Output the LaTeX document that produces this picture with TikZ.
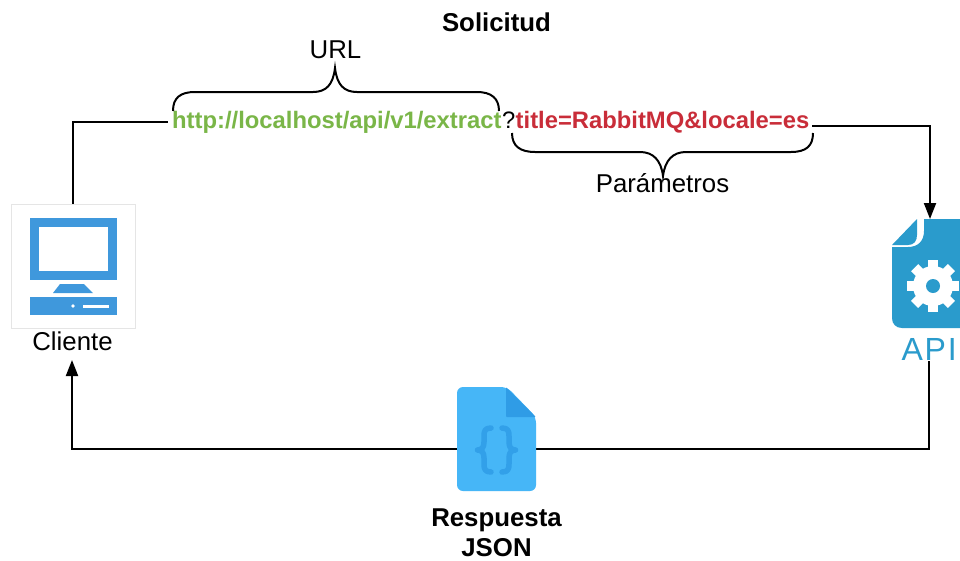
\documentclass[tikz,border=0pt]{standalone}
\usepackage{fontspec}
\setmainfont{Liberation Sans}
\usetikzlibrary{arrows.meta}
\definecolor{urlgreen}{HTML}{7AB648}
\definecolor{paramred}{HTML}{C92D39}
\definecolor{pcblue}{HTML}{3F98DC}
\definecolor{apiblue}{HTML}{2A9BCC}
\definecolor{jsonblue}{HTML}{46B6F7}
\definecolor{jsondark}{HTML}{2F9CE6}
\tikzset{
  lbl/.style={inner sep=0pt,font=\fontsize{25.8}{30}\selectfont},
  bold/.style={inner sep=0pt,font=\fontsize{25.8}{30}\selectfont\bfseries},
  conn/.style={draw=black,line width=2pt},
  arrowed/.style={conn,-{Triangle[length=16pt,width=12pt]}},
  bracecurve/.style={draw=black,line width=2pt}
}
\begin{document}
\begin{tikzpicture}[x=1pt,y=-1pt]
\useasboundingbox (0,0) rectangle (960,560);
\clip (0,0) rectangle (960,560);
\fill[white] (0,0) rectangle (960,560);
% anchors
\coordinate (apiIn) at (930,219);
\coordinate (apiOut) at (929,361);
\coordinate (paramsOut) at (812,126);
\coordinate (urlIn) at (168,122);
\coordinate (clientOut) at (73,204);
\coordinate (clientIn) at (72,360);
\coordinate (jsonMid) at (496,449);
% connectors
\draw[conn] (clientOut) |- (urlIn);
\draw[arrowed] (paramsOut) -| (apiIn);
\draw[arrowed] (apiOut) |- (jsonMid) -| (clientIn);
% client icon
\node[draw=black!10,line width=0.8pt,minimum width=124pt,minimum height=124pt,inner sep=0pt] (cliente) at (73,266) {};
\fill[pcblue] (30,218) rectangle (116.5,280);
\fill[white] (39,227) rectangle (108,271);
\fill[pcblue] (60,284) -- (84,284) -- (93,293) -- (53,293) -- cycle;
\fill[pcblue] (30,297) rectangle (116.5,315);
\fill[white] (73,306) circle (1.8);
\fill[white] (83,304.5) rectangle (109,307.5);
\node[lbl] (clabel) at (72.5,341) {Cliente};
% api icon
\fill[apiblue] (924,219) -- (970,219) -- (970,328) -- (902,328)
  .. controls (896,328) and (892,324) .. (892,318) -- (892,247) -- (908,247)
  .. controls (918,247) and (924,241) .. (924,231) -- cycle;
\fill[apiblue] (917,219) -- (892,245) -- (908,245)
  .. controls (914,245) and (917,241) .. (917,235) -- cycle;
\foreach \a in {0,45,...,315}{
  \fill[white,rotate around={\a:(933,286)}] (928,260) rectangle (938,275);
}
\fill[white] (933,286) circle (20);
\fill[apiblue] (933,286) circle (7);
\node[anchor=base west,inner sep=0pt,text=apiblue,font=\fontsize{32}{36}\selectfont] (api) at (901.5,360) {A\kern1.5pt P\kern2pt I};
% json icon
\fill[jsonblue,rounded corners=6pt] (457,387) -- (507,387) -- (536,417) -- (536,491) -- (457,491) -- cycle;
\fill[jsondark,rounded corners=1pt] (506,387) -- (536,417) -- (506,417) -- cycle;
\begin{scope}[draw=jsondark!85!jsonblue,line width=5.5pt,line cap=round,line join=round]
\draw (491,428) .. controls (485,428) and (484,431) .. (484,436) -- (484,442)
  .. controls (484,447) and (482,450) .. (477.5,450)
  .. controls (482,450) and (484,453) .. (484,458) -- (484,464)
  .. controls (484,469) and (485,472) .. (491,472);
\draw (502,428) .. controls (508,428) and (509,431) .. (509,436) -- (509,442)
  .. controls (509,447) and (511,450) .. (515.5,450)
  .. controls (511,450) and (509,453) .. (509,458) -- (509,464)
  .. controls (509,469) and (508,472) .. (502,472);
\end{scope}
\node[bold,anchor=base] (jsonlabel1) at (496.5,526) {Respuesta};
\node[bold,anchor=base] (jsonlabel2) at (496.5,556) {JSON};
% texts
\node[bold] (title) at (496.5,22) {Solicitud};
\node[lbl] (urllabel) at (335.5,50) {URL};
\node[lbl] (paramlabel) at (662.5,183) {Parámetros};
\node[anchor=base west,inner sep=0pt,text=urlgreen,font=\fontsize{23.8}{28}\selectfont\bfseries] (url) at (172,128.5) {http://localhost/api/v1/extract};
\node[anchor=base west,inner sep=0pt,font=\fontsize{23.8}{28}\selectfont] (q) at (502,128.5) {?};
\node[anchor=base west,inner sep=0pt,text=paramred,font=\fontsize{23.8}{28}\selectfont\bfseries] (params) at (515.5,128.5) {title=RabbitMQ\&locale=es};
% braces
\draw[bracecurve] (173,111) .. controls (173,98) and (180,92) .. (195,92) -- (313,92)
  .. controls (326,92) and (333,85) .. (335,68)
  .. controls (337,85) and (344,92) .. (357,92) -- (477,92)
  .. controls (491,92) and (499,98) .. (499,111);
\draw[bracecurve] (512,133) .. controls (512,146) and (520,152) .. (535,152) -- (640,152)
  .. controls (653,152) and (661,160) .. (663,176)
  .. controls (665,160) and (673,152) .. (686,152) -- (791,152)
  .. controls (806,152) and (813,146) .. (813,133);
\end{tikzpicture}
\end{document}
